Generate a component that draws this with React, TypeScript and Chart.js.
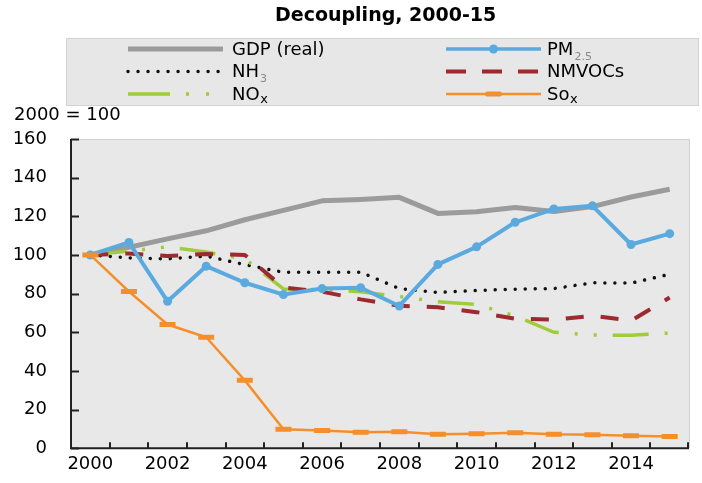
import React, { useEffect, useRef } from 'react';
import { Chart, registerables } from 'chart.js';

Chart.register(...registerables);

// ---- data ----
const years = ['2000', '2001', '2002', '2003', '2004', '2005', '2006', '2007', '2008', '2009', '2010', '2011', '2012', '2013', '2014', '2015'];
const gdpReal = [100, 104, 108.3, 112.5, 118.2, 123.1, 128, 128.7, 129.8, 121.5, 122.3, 124.5, 122.5, 125, 130, 134];
const pm25 = [100, 106.5, 76, 94.2, 85.6, 79.5, 82.6, 83, 73.6, 95.1, 104.2, 116.9, 123.8, 125.4, 105.4, 111];
const nh3 = [100, 98.5, 98, 99.4, 95, 91, 91, 91.1, 82.6, 80.6, 81.6, 82.3, 82.6, 85.6, 85.4, 90];
const nmvocs = [100, 100.8, 99.4, 100.5, 100, 83.2, 81, 77, 73.7, 72.9, 70.4, 67, 66.5, 68.5, 66, 78];
const nox = [100, 102, 104.2, 101.5, 98, 82.4, 82, 81, 78.5, 75.8, 74.4, 68.4, 60, 58.6, 58.4, 59.6];
const sox = [100, 81.1, 64, 57.4, 35.1, 9.8, 9.1, 8.2, 8.5, 7.2, 7.5, 8, 7.2, 6.9, 6.5, 6];

const yMin = 0;
const yMax = 160;
const yStep = 20;

const titleText = 'Decoupling, 2000-15';
const unitText = '2000 = 100';
const legendKeys = ['gdp', 'pm', 'nh3', 'nmvoc', 'nox', 'sox'];
const legendMain = ['GDP (real)', 'PM', 'NH', 'NMVOCs', 'NO', 'So'];
const legendSub = ['', '2.5', '3', '', 'x', 'x'];

// ---- styles ----
const FONT = '"DejaVu Sans", "Liberation Sans", sans-serif';
const STY: Record<string, any> = {
  gdp: { color: '#9b9b9b', width: 5, dash: [] as number[], cap: 'butt' },
  pm: { color: '#5aaae0', width: 4, dash: [] as number[], cap: 'butt' },
  nh3: { color: '#111111', width: 3.5, dash: [0.01, 10], cap: 'round' },
  nmvoc: { color: '#9c2a2f', width: 4, dash: [18, 17], cap: 'butt' },
  nox: { color: '#9fcc3b', width: 3.5, dash: [36, 16, 3, 16, 3, 16], cap: 'butt' },
  sox: { color: '#f58f2c', width: 2.5, dash: [] as number[], cap: 'butt' },
};

export default function App() {
  const ref = useRef<HTMLCanvasElement>(null);

  useEffect(() => {
    const canvas = ref.current;
    if (!canvas) return;

    const decor = {
      id: 'decor',
      beforeDraw(chart: any) {
        const ctx = chart.ctx;
        const a = chart.chartArea;
        ctx.save();
        ctx.fillStyle = '#ffffff';
        ctx.fillRect(0, 0, chart.width, chart.height);
        // legend box
        ctx.fillStyle = '#e7e7e7';
        ctx.fillRect(66, 38, 633, 68);
        ctx.strokeStyle = '#d2d2d2';
        ctx.lineWidth = 1;
        ctx.strokeRect(66.5, 38.5, 632, 67);
        // plot area
        ctx.fillStyle = '#e8e8e8';
        ctx.fillRect(a.left, a.top, a.right - a.left + 1, a.bottom - a.top);
        ctx.strokeStyle = '#d0d0d0';
        ctx.beginPath();
        ctx.moveTo(a.left, a.top + 0.5);
        ctx.lineTo(a.right + 0.5, a.top + 0.5);
        ctx.lineTo(a.right + 0.5, a.bottom);
        ctx.stroke();
        ctx.restore();
      },
      afterDraw(chart: any) {
        const ctx = chart.ctx;
        const a = chart.chartArea;
        const xs = chart.scales.x;
        const ys = chart.scales.y;
        ctx.save();
        // axes
        ctx.strokeStyle = '#222222';
        ctx.lineWidth = 2;
        ctx.beginPath();
        ctx.moveTo(a.left, a.top);
        ctx.lineTo(a.left, a.bottom);
        ctx.lineTo(a.right, a.bottom);
        ctx.stroke();
        // y ticks (inward)
        ctx.lineWidth = 2;
        for (let v = yMin; v <= yMax; v += yStep) {
          const py = Math.round(ys.getPixelForValue(v)) + 0.5;
          ctx.beginPath();
          ctx.moveTo(a.left, py);
          ctx.lineTo(a.left + 8, py);
          ctx.stroke();
        }
        // x ticks (inward, at category boundaries)
        const n = years.length;
        for (let i = 1; i <= n; i++) {
          let px;
          if (i < n) px = (xs.getPixelForValue(i - 1) + xs.getPixelForValue(i)) / 2;
          else px = a.right - 1;
          px = Math.round(px);
          ctx.beginPath();
          ctx.moveTo(px, a.bottom);
          ctx.lineTo(px, a.bottom - 6);
          ctx.stroke();
        }
        // title
        ctx.fillStyle = '#000';
        ctx.font = 'bold 19px ' + FONT;
        ctx.textBaseline = 'middle';
        ctx.textAlign = 'left';
        ctx.fillText(titleText, 275, 16);
        // unit
        ctx.font = '18px ' + FONT;
        ctx.fillText(unitText, 14, 115.5);

        // legend
        const colX = [128, 446];
        const colTextX = [232, 547];
        const rowY = [49, 71.5, 94];
        const sampleW = 95;
        for (let k = 0; k < legendKeys.length; k++) {
          const key = legendKeys[k];
          const col = k % 2;
          const row = Math.floor(k / 2);
          const x1 = colX[col];
          const x2 = x1 + sampleW;
          const y = rowY[row];
          const s = STY[key];
          ctx.save();
          ctx.strokeStyle = s.color;
          ctx.lineWidth = s.width;
          ctx.lineCap = s.cap;
          let dash = s.dash;
          if (key === 'nmvoc') dash = [20, 16];
          if (key === 'nox') dash = [42, 16, 3, 17, 3, 40];
          if (key === 'pm') ctx.lineWidth = 3.5;
          ctx.setLineDash(dash);
          ctx.beginPath();
          ctx.moveTo(x1, y);
          ctx.lineTo(x2, y);
          ctx.stroke();
          ctx.setLineDash([]);
          const cx = (x1 + x2) / 2;
          if (key === 'pm') {
            ctx.fillStyle = s.color;
            ctx.beginPath();
            ctx.arc(cx, y, 4.5, 0, Math.PI * 2);
            ctx.fill();
          }
          if (key === 'sox') {
            ctx.lineWidth = 5;
            ctx.lineCap = 'round';
            ctx.beginPath();
            ctx.moveTo(cx - 6, y);
            ctx.lineTo(cx + 6, y);
            ctx.stroke();
          }
          ctx.restore();
          // text
          ctx.fillStyle = '#000';
          ctx.font = '18px ' + FONT;
          ctx.textBaseline = 'middle';
          ctx.textAlign = 'left';
          const tx = colTextX[col];
          ctx.fillText(legendMain[k], tx, y + 1);
          const w = ctx.measureText(legendMain[k]).width;
          const sub = legendSub[k];
          if (sub) {
            ctx.textBaseline = 'alphabetic';
            if (sub === 'x') {
              ctx.font = '13px ' + FONT;
              ctx.fillStyle = '#000';
              ctx.fillText(sub, tx + w + 0.5, y + 8.5);
            } else {
              ctx.font = '11px ' + FONT;
              ctx.fillStyle = '#8a8a8a';
              ctx.fillText(sub, tx + w + 1, y + 10.5);
            }
          }
        }
        ctx.restore();
      },
    };

    const mk = (label: string, data: number[], key: string, extra: any = {}) => {
      const s = STY[key];
      return {
        label,
        data,
        borderColor: s.color,
        backgroundColor: s.color,
        borderWidth: s.width,
        borderDash: s.dash,
        borderCapStyle: s.cap,
        borderJoinStyle: 'round',
        pointRadius: 0,
        pointHoverRadius: 0,
        tension: 0,
        fill: false,
        ...extra,
      };
    };

    const chart = new Chart(canvas, {
      type: 'line',
      data: {
        labels: years,
        datasets: [
          mk('Sox', sox, 'sox', {
            pointStyle: 'line',
            pointRadius: 8,
            pointBorderWidth: 5,
            pointBorderColor: STY.sox.color,
          }),
          mk('PM2.5', pm25, 'pm', {
            pointStyle: 'circle',
            pointRadius: 4.5,
            pointBorderWidth: 0,
            pointBackgroundColor: STY.pm.color,
          }),
          mk('NMVOCs', nmvocs, 'nmvoc'),
          mk('NOx', nox, 'nox'),
          mk('NH3', nh3, 'nh3'),
          mk('GDP (real)', gdpReal, 'gdp'),
        ] as any,
      },
      options: {
        responsive: false,
        animation: false,
        events: [],
        layout: { padding: { top: 139, right: 4, bottom: 0, left: 0 } },
        plugins: {
          legend: { display: false },
          title: { display: false },
          tooltip: { enabled: false },
        },
        scales: {
          x: {
            type: 'category',
            offset: true,
            grid: { display: false, drawTicks: false, offset: true },
            border: { display: false },
            ticks: {
              autoSkip: false,
              maxRotation: 0,
              minRotation: 0,
              padding: 5,
              color: '#000',
              font: { family: FONT, size: 18 },
              callback: (_v: any, i: number) => (i % 2 === 0 ? years[i] : ''),
            },
            afterFit: (scale: any) => {
              scale.height = 33;
            },
          },
          y: {
            min: yMin,
            max: yMax,
            grid: { display: false, drawTicks: false },
            border: { display: false },
            ticks: {
              stepSize: yStep,
              padding: 24,
              color: '#000',
              font: { family: FONT, size: 18 },
            },
            afterFit: (scale: any) => {
              scale.width = 71;
            },
          },
        },
      } as any,
      plugins: [decor],
    });

    return () => chart.destroy();
  }, []);

  return (
    <div style={{ position: 'absolute', left: 0, top: 0, width: 702, height: 483, background: '#fff' }}>
      <canvas ref={ref} width={702} height={483} style={{ display: 'block', width: 702, height: 483 }} />
    </div>
  );
}
